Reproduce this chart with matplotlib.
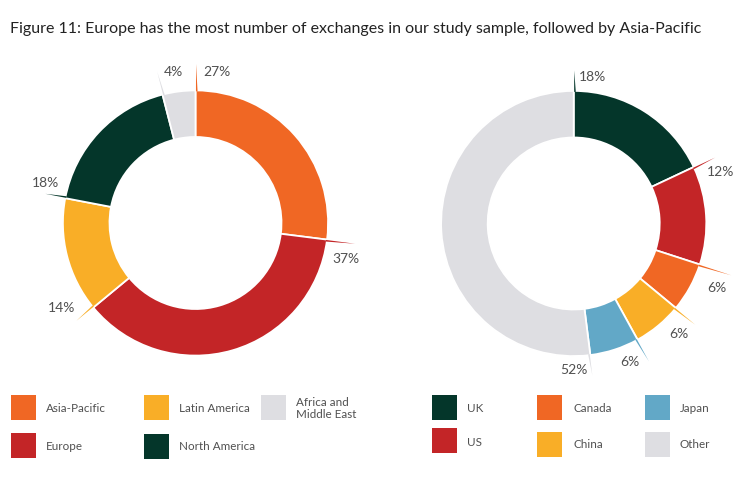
import numpy as np
import matplotlib
matplotlib.use('Agg')
import matplotlib.pyplot as plt
from matplotlib.patches import Rectangle

plt.rcParams['font.family'] = ['Lato', 'DejaVu Sans']

# Datos
title = 'Figure 11: Europe has the most number of exchanges in our study sample, followed by Asia-Pacific'

region_names = ['Asia-Pacific', 'Europe', 'Latin America', 'North America', 'Africa and\nMiddle East']
region_values = [27, 37, 14, 18, 4]

country_names = ['UK', 'US', 'Canada', 'China', 'Japan', 'Other']
country_values = [18, 12, 6, 6, 6, 52]

# Colores
ORANGE = '#F06724'
RED = '#C32527'
YELLOW = '#F9AE27'
GREEN = '#04362A'
GREY = '#DEDEE2'
BLUE = '#62A8C7'
TEXT = '#505050'

region_colors = [ORANGE, RED, YELLOW, GREEN, GREY]
country_colors = [GREEN, RED, ORANGE, YELLOW, BLUE, GREY]

W, H = 743, 488
R_OUT = 132.6
R_IN = 86

fig = plt.figure(figsize=(W / 100, H / 100), dpi=100)
ax = fig.add_axes([0, 0, 1, 1])


def py(y):
    # coordenada y en pixeles desde arriba
    return H - y


def donut(values, colors, cx, cy, spike_radius, label_pos):
    ax.pie(values, colors=colors, startangle=90, counterclock=False,
           center=(cx, py(cy)), radius=R_OUT,
           wedgeprops=dict(width=R_OUT - R_IN, edgecolor='white', linewidth=1.3))
    # Lineas guia afiladas al inicio de cada sector
    start = 0
    for v, c, r, (lx, ly) in zip(values, colors, spike_radius, label_pos):
        a0 = np.radians(start + 0.2)
        a1 = np.radians(start + 0.9)
        xs = [cx + (R_OUT - 1) * np.sin(a0), cx + r * np.sin(a0), cx + (R_OUT - 1) * np.sin(a1)]
        ys = [py(cy) + (R_OUT - 1) * np.cos(a0), py(cy) + r * np.cos(a0), py(cy) + (R_OUT - 1) * np.cos(a1)]
        ax.fill(xs, ys, color=c, linewidth=0, zorder=3)
        ax.text(lx, py(ly), f'{v}%', ha='center', va='center', fontsize=10, color=TEXT)
        start += v * 3.6


# Donut izquierdo
donut(region_values, region_colors, 195.5, 223, [159, 161, 154, 153, 156],
      [(217, 72), (346, 259), (62, 308), (45, 183), (173, 72)])

# Donut derecho
donut(country_values, country_colors, 573.7, 223.5, [153, 156, 166, 158, 157, 153],
      [(592, 77), (721, 172), (717, 288), (679, 334), (630, 362), (574, 370)])

ax.set_xlim(0, W)
ax.set_ylim(0, H)
ax.set_aspect('equal')
ax.axis('off')

# Titulo
ax.text(10, py(29), title, ha='left', va='center', fontsize=11.5, color='#222222')

# Leyenda: x cuadro, y cuadro, x texto, y texto
region_legend = [(11, 395, 46, 408), (11, 433, 46, 446), (144, 395, 179, 408),
                 (144, 434, 179, 447), (261, 395, 296, 408.5)]
country_legend = [(432, 395, 467, 408), (432, 428, 467, 442), (537, 395, 573, 408),
                  (537, 432, 573, 445), (645, 395, 680, 408), (645, 432, 680, 445)]

for names, colors, layout in [(region_names, region_colors, region_legend),
                              (country_names, country_colors, country_legend)]:
    for name, c, (sx, sy, tx, ty) in zip(names, colors, layout):
        ax.add_patch(Rectangle((sx, py(sy + 25)), 25, 25, facecolor=c, edgecolor='none'))
        ax.text(tx, py(ty), name, ha='left', va='center', fontsize=8.4, color=TEXT,
                linespacing=1.05)

fig.savefig('out.png', dpi=100)
